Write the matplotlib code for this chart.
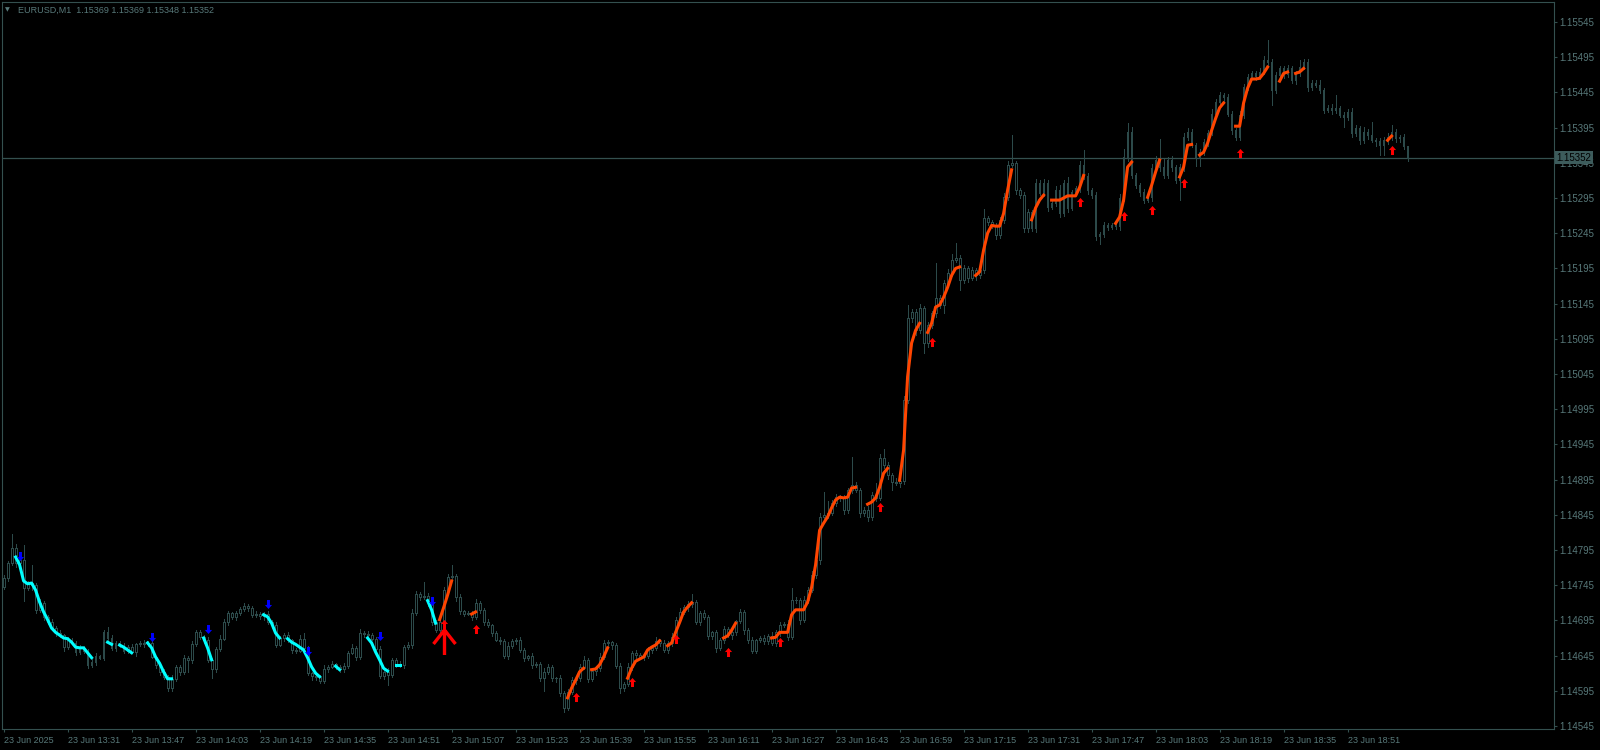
import matplotlib.pyplot as plt
from matplotlib.path import Path

# ---- data (23 Jun 2025, one bar per minute from 13:15) ----
closes = [
    1.14755, 1.14776, 1.14798, 1.14776, 1.14781, 1.14741, 1.14748, 1.14745, 1.14710, 1.14720,
    1.14700, 1.14693, 1.14684, 1.14677, 1.14674, 1.14657, 1.14667, 1.14663, 1.14650, 1.14656,
    1.14652, 1.14632, 1.14636, 1.14644, 1.14642, 1.14678, 1.14670, 1.14656, 1.14663, 1.14659,
    1.14652, 1.14657, 1.14650, 1.14661, 1.14663, 1.14661, 1.14663, 1.14643, 1.14632, 1.14622,
    1.14615, 1.14599, 1.14612, 1.14629, 1.14622, 1.14642, 1.14639, 1.14661, 1.14678, 1.14671,
    1.14667, 1.14639, 1.14626, 1.14654, 1.14669, 1.14693, 1.14705, 1.14700, 1.14705, 1.14711,
    1.14715, 1.14713, 1.14703, 1.14704, 1.14701, 1.14704, 1.14693, 1.14688, 1.14660, 1.14670,
    1.14674, 1.14667, 1.14653, 1.14652, 1.14669, 1.14656, 1.14620, 1.14616, 1.14615, 1.14609,
    1.14626, 1.14629, 1.14633, 1.14629, 1.14626, 1.14630, 1.14649, 1.14656, 1.14643, 1.14677,
    1.14676, 1.14674, 1.14669, 1.14654, 1.14616, 1.14622, 1.14617, 1.14639, 1.14633, 1.14632,
    1.14657, 1.14660, 1.14705, 1.14732, 1.14728, 1.14730, 1.14721, 1.14693, 1.14681, 1.14693,
    1.14738, 1.14757, 1.14758, 1.14728, 1.14708, 1.14704, 1.14705, 1.14700, 1.14720, 1.14710,
    1.14693, 1.14688, 1.14677, 1.14667, 1.14666, 1.14644, 1.14659, 1.14666, 1.14667, 1.14653,
    1.14642, 1.14644, 1.14632, 1.14633, 1.14613, 1.14622, 1.14629, 1.14613, 1.14613, 1.14592,
    1.14571, 1.14593, 1.14610, 1.14613, 1.14629, 1.14639, 1.14612, 1.14623, 1.14627, 1.14643,
    1.14663, 1.14664, 1.14660, 1.14630, 1.14599, 1.14605, 1.14629, 1.14649, 1.14646, 1.14643,
    1.14644, 1.14653, 1.14656, 1.14666, 1.14663, 1.14653, 1.14663, 1.14671, 1.14696, 1.14707,
    1.14714, 1.14718, 1.14721, 1.14693, 1.14705, 1.14700, 1.14673, 1.14678, 1.14656, 1.14667,
    1.14683, 1.14674, 1.14678, 1.14694, 1.14707, 1.14681, 1.14667, 1.14652, 1.14667, 1.14670,
    1.14666, 1.14673, 1.14663, 1.14678, 1.14688, 1.14690, 1.14671, 1.14724, 1.14724, 1.14696,
    1.14724, 1.14738, 1.14759, 1.14781, 1.14842, 1.14845, 1.14847, 1.14862, 1.14870, 1.14869,
    1.14852, 1.14880, 1.14887, 1.14880, 1.14847, 1.14852, 1.14842, 1.14873, 1.14869, 1.14926,
    1.14916, 1.14901, 1.14892, 1.14890, 1.14893, 1.15008, 1.15124, 1.15133, 1.15107, 1.15139,
    1.15089, 1.15114, 1.15131, 1.15153, 1.15143, 1.15174, 1.15188, 1.15207, 1.15210, 1.15178,
    1.15195, 1.15181, 1.15193, 1.15185, 1.15193, 1.15266, 1.15261, 1.15255, 1.15242, 1.15264,
    1.15296, 1.15342, 1.15344, 1.15306, 1.15299, 1.15252, 1.15275, 1.15252, 1.15316, 1.15302,
    1.15317, 1.15282, 1.15288, 1.15306, 1.15273, 1.15316, 1.15281, 1.15303, 1.15309, 1.15342,
    1.15326, 1.15306, 1.15299, 1.15241, 1.15244, 1.15256, 1.15254, 1.15256, 1.15255, 1.15295,
    1.15353, 1.15389, 1.15327, 1.15313, 1.15303, 1.15292, 1.15296, 1.15337, 1.15349, 1.15339,
    1.15327, 1.15349, 1.15339, 1.15320, 1.15339, 1.15381, 1.15389, 1.15370, 1.15352, 1.15360,
    1.15374, 1.15387, 1.15415, 1.15431, 1.15441, 1.15438, 1.15415, 1.15391, 1.15381, 1.15413,
    1.15452, 1.15467, 1.15472, 1.15468, 1.15474, 1.15491, 1.15488, 1.15448, 1.15469, 1.15479,
    1.15471, 1.15479, 1.15462, 1.15472, 1.15481, 1.15488, 1.15452, 1.15459, 1.15455, 1.15448,
    1.15420, 1.15423, 1.15420, 1.15423, 1.15413, 1.15410, 1.15417, 1.15387, 1.15394, 1.15377,
    1.15389, 1.15384, 1.15377, 1.15376, 1.15370, 1.15377, 1.15381, 1.15389, 1.15380, 1.15381,
    1.15369, 1.15352,
]
first_open = 1.14742
POINT = 0.00001

# wick lengths above / below the body, in points
up_wick = [
    5, 4, 19, 6, 4, 21, 3, 26, 3, 5,   3, 2, 4, 3, 5, 2, 4, 3, 2, 4,
    3, 3, 4, 5, 2, 3, 8, 4, 3, 2,      4, 3, 5, 2, 3, 4, 3, 5, 2, 3,
    4, 3, 5, 3, 2, 4, 3, 5, 4, 3,      3, 4, 2, 3, 5, 4, 3, 2, 4, 3,
    5, 3, 2, 4, 3, 3, 5, 2, 4, 3,      3, 4, 2, 3, 5, 8, 3, 2, 4, 3,
    5, 3, 4, 2, 3, 4, 3, 5, 2, 6,      3, 4, 3, 2, 4, 3, 5, 3, 2, 4,
    3, 4, 6, 5, 3, 19, 4, 3, 2, 4,     5, 4, 16, 3, 4, 2, 3, 4, 5, 3,
    3, 4, 2, 3, 4, 3, 5, 2, 3, 4,      3, 2, 4, 3, 3, 5, 4, 3, 2, 4,
    3, 4, 5, 3, 4, 6, 3, 4, 2, 5,      4, 3, 2, 3, 4, 3, 5, 3, 4, 2,
    3, 4, 3, 5, 2, 4, 3, 6, 4, 5,      3, 4, 12, 3, 4, 5, 3, 2, 4, 3,
    4, 3, 5, 2, 4, 3, 3, 4, 2, 3,      4, 3, 5, 3, 4, 3, 5, 17, 4, 3,
    5, 4, 6, 3, 5, 33, 17, 4, 5, 3,    4, 3, 40, 5, 3, 4, 6, 5, 17, 6,
    12, 4, 3, 5, 4, 6, 19, 5, 4, 6,    3, 5, 4, 50, 4, 5, 6, 9, 21, 4,
    5, 3, 4, 3, 5, 14, 4, 3, 5, 4,     6, 5, 40, 4, 3, 5, 4, 3, 6, 4,
    5, 3, 4, 6, 7, 5, 9, 4, 3, 6,      21, 4, 3, 4, 3, 5, 3, 4, 3, 5,
    12, 12, 7, 4, 3, 5, 4, 6, 5, 30,   12, 4, 5, 3, 4, 6, 5, 4, 3, 4,
    5, 4, 6, 5, 4, 3, 5, 4, 3, 6,      5, 4, 3, 4, 5, 6, 28, 4, 5, 3,
    4, 5, 3, 4, 10, 5, 4, 3, 4, 7,     3, 4, 5, 19, 3, 4, 5, 6, 4, 3,
    7, 4, 19, 3, 4, 5, 6, 9, 4, 3,     5, 0,
]
dn_wick = [
    3, 4, 3, 5, 4, 19, 3, 7, 4, 3,     4, 3, 2, 4, 3, 5, 3, 2, 4, 3,
    4, 5, 3, 4, 2, 3, 4, 3, 5, 2,      3, 4, 2, 5, 3, 4, 3, 2, 4, 5,
    3, 5, 4, 3, 4, 3, 18, 4, 3, 2,     4, 3, 13, 4, 3, 2, 4, 3, 5, 3,
    2, 4, 3, 3, 4, 5, 3, 4, 3, 2,      4, 3, 5, 3, 2, 4, 3, 5, 4, 3,
    3, 4, 2, 3, 4, 5, 3, 2, 4, 3,      4, 3, 2, 5, 3, 4, 14, 3, 4, 3,
    5, 3, 4, 3, 4, 3, 5, 4, 3, 4,      3, 4, 3, 5, 4, 3, 2, 4, 3, 5,
    4, 3, 4, 2, 5, 3, 4, 3, 4, 3,      4, 3, 5, 3, 4, 19, 3, 4, 5, 4,
    6, 4, 3, 5, 4, 3, 4, 3, 5, 4,      3, 4, 5, 3, 7, 4, 3, 5, 4, 3,
    4, 3, 5, 3, 4, 3, 5, 4, 3, 4,      3, 5, 4, 3, 4, 3, 5, 4, 6, 3,
    4, 3, 5, 4, 3, 5, 4, 3, 4, 3,      5, 4, 3, 4, 5, 3, 4, 3, 5, 6,
    4, 5, 3, 4, 6, 5, 4, 3, 5, 4,      6, 5, 4, 3, 5, 4, 6, 5, 4, 3,
    4, 5, 12, 3, 5, 4, 4, 5, 6, 4,     14, 5, 4, 5, 4, 12, 5, 4, 3, 14,
    4, 5, 3, 6, 4, 5, 4, 3, 5, 4,      5, 4, 3, 5, 4, 6, 5, 4, 5, 3,
    4, 5, 3, 4, 5, 4, 6, 3, 4, 5,      4, 5, 4, 6, 12, 4, 5, 3, 4, 5,
    4, 5, 3, 4, 5, 4, 3, 5, 4, 6,      4, 3, 5, 4, 28, 5, 4, 3, 12, 12,
    4, 5, 3, 4, 5, 6, 4, 5, 3, 4,      5, 4, 3, 5, 4, 3, 5, 21, 4, 3,
    5, 4, 3, 5, 4, 3, 5, 4, 3, 4,      4, 3, 5, 4, 3, 14, 4, 5, 4, 6,
    4, 5, 3, 7, 14, 14, 5, 4, 6, 5,    4, 4,
]

# trend line of the indicator: (first bar, values) for each visible piece
down_segments = [
    (3, [1.14785, 1.14774, 1.14751, 1.14747, 1.14748, 1.14738, 1.14721, 1.14707, 1.14696, 1.14684,
         1.14678, 1.14674, 1.14670, 1.14669, 1.14664, 1.14657, 1.14656, 1.14656, 1.14649, 1.14642]),
    (26, [1.14664, 1.14661]),
    (29, [1.14660, 1.14657, 1.14653, 1.14649]),
    (36, [1.14663, 1.14656, 1.14643, 1.14634, 1.14622, 1.14612, 1.14612]),
    (50, [1.14670, 1.14656, 1.14639]),
    (65, [1.14703, 1.14700, 1.14691, 1.14677, 1.14670]),
    (71, [1.14669, 1.14664, 1.14661, 1.14657, 1.14653, 1.14642, 1.14629, 1.14620, 1.14615]),
    (83, [1.14630, 1.14625]),
    (91, [1.14670, 1.14663, 1.14650, 1.14639, 1.14627, 1.14623]),
    (98, [1.14632, 1.14632]),
    (106, [1.14723, 1.14710, 1.14691]),
]
up_segments = [
    (109, [1.14696, 1.14713, 1.14731, 1.14751]),
    (117, [1.14704, 1.14707]),
    (141, [1.14585, 1.14599, 1.14610, 1.14622, 1.14627]),
    (147, [1.14625, 1.14626, 1.14632, 1.14643, 1.14656]),
    (156, [1.14613, 1.14627, 1.14637, 1.14640, 1.14643, 1.14653, 1.14657, 1.14660, 1.14666]),
    (166, [1.14659, 1.14663, 1.14678, 1.14692, 1.14707, 1.14714, 1.14720]),
    (180, [1.14670, 1.14673, 1.14681, 1.14691]),
    (192, [1.14670, 1.14671, 1.14678, 1.14678, 1.14678, 1.14703, 1.14710, 1.14710, 1.14710, 1.14721,
           1.14742, 1.14774, 1.14823, 1.14833, 1.14842, 1.14855, 1.14866, 1.14870, 1.14869, 1.14870,
           1.14883, 1.14884]),
    (216, [1.14860, 1.14863, 1.14869, 1.14884, 1.14904, 1.14911]),
    (224, [1.14894, 1.14937, 1.15041, 1.15089, 1.15107, 1.15117]),
    (231, [1.15104, 1.15117, 1.15140, 1.15143, 1.15154, 1.15168, 1.15185, 1.15195, 1.15197]),
    (243, [1.15185, 1.15190, 1.15221, 1.15245, 1.15256, 1.15255, 1.15255, 1.15273, 1.15306, 1.15335]),
    (257, [1.15264, 1.15281, 1.15292, 1.15299]),
    (262, [1.15292, 1.15292, 1.15292, 1.15295, 1.15298, 1.15298, 1.15298, 1.15310, 1.15327]),
    (278, [1.15259, 1.15268, 1.15292, 1.15339, 1.15346]),
    (286, [1.15296, 1.15313, 1.15332, 1.15349]),
    (294, [1.15325, 1.15339, 1.15370, 1.15371]),
    (299, [1.15356, 1.15360, 1.15373, 1.15391, 1.15408, 1.15423, 1.15430]),
    (308, [1.15397, 1.15397, 1.15430, 1.15451, 1.15464, 1.15464, 1.15465, 1.15472, 1.15481]),
    (319, [1.15461, 1.15472, 1.15474]),
    (323, [1.15472, 1.15474, 1.15479]),
    (346, [1.15377, 1.15383]),
]

# signal arrows (bar index, price)
sell_bars = [4, 37, 51, 66, 76, 94, 107]
sell_prices = [1.14786, 1.14671, 1.14683, 1.14718, 1.14652, 1.14673, 1.14723]
buy_bars = [110, 118, 143, 157, 168, 181, 194, 219, 232, 269, 280, 287, 295, 309, 347]
buy_prices = [1.14690, 1.14683, 1.14586, 1.14608, 1.14669, 1.14650, 1.14664, 1.14856,
              1.15090, 1.15289, 1.15269, 1.15278, 1.15316, 1.15359, 1.15363]
big_buy_bar = 110
big_buy_price = 1.14664

current_price = 1.15352
title_text = "EURUSD,M1  1.15369 1.15369 1.15348 1.15352"

price_ticks = [1.14545, 1.14595, 1.14645, 1.14695, 1.14745, 1.14795, 1.14845, 1.14895,
               1.14945, 1.14995, 1.15045, 1.15095, 1.15145, 1.15195, 1.15245, 1.15295,
               1.15345, 1.15395, 1.15445, 1.15495, 1.15545]
time_labels = ["23 Jun 2025", "23 Jun 13:31", "23 Jun 13:47", "23 Jun 14:03", "23 Jun 14:19",
               "23 Jun 14:35", "23 Jun 14:51", "23 Jun 15:07", "23 Jun 15:23", "23 Jun 15:39",
               "23 Jun 15:55", "23 Jun 16:11", "23 Jun 16:27", "23 Jun 16:43", "23 Jun 16:59",
               "23 Jun 17:15", "23 Jun 17:31", "23 Jun 17:47", "23 Jun 18:03", "23 Jun 18:19",
               "23 Jun 18:35", "23 Jun 18:51"]
BARS_PER_LABEL = 16

# colours
FG = '#34504f'
TEXT = '#58797a'
CANDLE = '#2c4a4a'
DOWN_LINE = '#00ffff'
UP_LINE = '#ff4500'

assert len(up_wick) == len(closes) and len(dn_wick) == len(closes)


def arrow_path(up=True):
    """Filled arrow marker like the MT4 wingdings arrows."""
    s = 1 if up else -1
    verts = [(0, s), (0.8, 0.1 * s), (0.33, 0.1 * s), (0.33, -s), (-0.33, -s),
             (-0.33, 0.1 * s), (-0.8, 0.1 * s), (0, s)]
    return Path(verts, closed=True)


def big_arrow_path():
    """Open line arrow (shaft and two wings)."""
    verts = [(0, -1), (0, 1), (-0.88, -0.12), (0, 1), (0.88, -0.12)]
    codes = [Path.MOVETO, Path.LINETO, Path.MOVETO, Path.LINETO, Path.LINETO]
    return Path(verts, codes)


def draw_chart():
    plt.rcParams['font.family'] = ['Liberation Sans', 'DejaVu Sans']

    fig = plt.figure(figsize=(16, 7.5), dpi=100, facecolor='black')
    ax = fig.add_axes([2 / 1600, 21 / 750, 1552 / 1600, 727 / 750])
    ax.set_facecolor('black')

    # build the OHLC values
    opens = [first_open] + closes[:-1]
    highs = [max(o, c) + w * POINT for o, c, w in zip(opens, closes, up_wick)]
    lows = [min(o, c) - w * POINT for o, c, w in zip(opens, closes, dn_wick)]
    x = list(range(len(closes)))

    # candles: wicks then hollow bodies
    ax.vlines(x, lows, highs, color=CANDLE, linewidth=0.7, antialiased=False, zorder=2)
    bottoms = [min(o, c) for o, c in zip(opens, closes)]
    heights = [abs(c - o) for o, c in zip(opens, closes)]
    ax.bar(x, heights, bottom=bottoms, width=0.45, facecolor='black', edgecolor=CANDLE,
           linewidth=0.7, antialiased=False, zorder=3)

    # current price line
    ax.axhline(current_price, color=FG, linewidth=0.9, zorder=1)

    # indicator line pieces
    for start, vals in down_segments:
        ax.plot(range(start, start + len(vals)), vals, color=DOWN_LINE, linewidth=2.2, zorder=4)
    for start, vals in up_segments:
        ax.plot(range(start, start + len(vals)), vals, color=UP_LINE, linewidth=2.2, zorder=4)

    # arrows
    ax.plot(sell_bars, sell_prices, linestyle='none', marker=arrow_path(up=False),
            markersize=6.5, color='#0000ff', markeredgewidth=0, zorder=5)
    ax.plot(buy_bars, buy_prices, linestyle='none', marker=arrow_path(up=True),
            markersize=6.5, color='#ff0000', markeredgewidth=0, zorder=5)
    ax.plot([big_buy_bar], [big_buy_price], linestyle='none', marker=big_arrow_path(),
            markersize=18, markeredgecolor='#ff0000', markerfacecolor='none',
            markeredgewidth=2.4, zorder=5)

    # axes limits: 4 px per bar, price scale of the terminal
    ax.set_xlim(-0.4, 387.6)
    ax.set_ylim(1.145407, 1.155734)

    for side in ['left', 'right', 'top', 'bottom']:
        ax.spines[side].set_color(FG)
        ax.spines[side].set_linewidth(0.8)

    # price axis on the right
    ax.yaxis.tick_right()
    ax.set_yticks(price_ticks)
    ax.set_yticklabels([f"{p:.5f}" for p in price_ticks])
    ax.tick_params(axis='y', colors=FG, labelcolor=TEXT, length=2.5, width=0.8,
                   pad=1.2, labelsize=7, direction='out')

    # time axis
    ax.set_xticks(list(range(0, len(time_labels) * BARS_PER_LABEL, BARS_PER_LABEL)))
    ax.set_xticklabels(time_labels)
    ax.tick_params(axis='x', colors=FG, labelcolor=TEXT, length=2.5, width=0.8,
                   pad=2.5, labelsize=6.5, direction='out')
    for lbl in ax.get_xticklabels():
        lbl.set_horizontalalignment('left')

    # current price tag on the scale
    ax.annotate(f"{current_price:.5f}", xy=(1.0, current_price),
                xycoords=('axes fraction', 'data'), xytext=(1.8, 0),
                textcoords='offset points', ha='left', va='center', fontsize=7,
                color='black', zorder=10, annotation_clip=False,
                bbox=dict(boxstyle='square,pad=0.15', facecolor='#3d5c5c', edgecolor='none'))

    # header text
    fig.text(5 / 1600, 1 - 10 / 750, '\u25bc', fontsize=4.5, color=TEXT,
             family=['DejaVu Sans'], va='center', ha='left')
    fig.text(18 / 1600, 1 - 10 / 750, title_text, fontsize=6.5, color=TEXT,
             va='center', ha='left')

    fig.savefig('out.png', dpi=100, facecolor='black')
    plt.close(fig)


if __name__ == '__main__':
    draw_chart()
